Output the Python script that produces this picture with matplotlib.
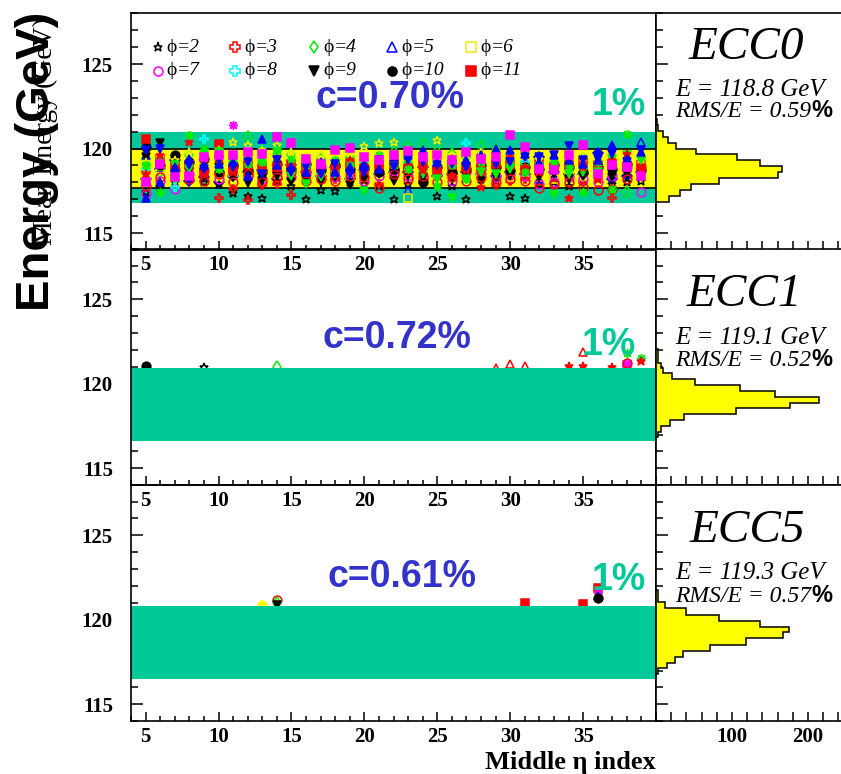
import numpy as np
import matplotlib
matplotlib.use("Agg")
import matplotlib.pyplot as plt
from matplotlib.ticker import MultipleLocator

plt.rcParams['font.family'] = ['Liberation Serif', 'DejaVu Serif']
plt.rcParams['font.weight'] = 'bold'

# ---------------- data ----------------
eta = np.arange(5, 40)

# top panel (ECC0), one list per marker series, eta = 5..39
phi2 = [117.4, 117.7, 118.0, 118.3, 118.0, 117.9, 117.35, 117.2, 117.1, 118.1,
        117.8, 117.0, 117.55, 117.5, 118.0, 117.9, 117.8, 117.0, 117.9, 118.1,
        117.2, 117.8, 117.0, 118.2, 118.1, 117.2, 117.05, 117.9, 118.0, 117.8,
        118.1, 118.2, 117.9, 118.0, 118.1]
phi3 = [118.6, 119.0, 119.2, 118.9, 118.4, 117.1, 117.6, 116.95, 117.85, 117.9,
        117.25, 118.3, 118.6, 118.2, 119.0, 118.4, 117.9, 118.6, 118.7, 118.0,
        118.4, 118.5, 118.3, 118.2, 117.85, 118.1, 118.2, 118.5, 118.3, 118.8,
        118.0, 118.4, 117.1, 118.6, 118.5]
phi4 = [119.3, 118.6, 118.2, 119.6, 119.2, 119.5, 119.4, 120.7, 119.8, 119.7,
        119.6, 119.3, 119.4, 119.0, 119.5, 119.3, 119.1, 119.8, 120.1, 120.25,
        120.15, 119.7, 119.5, 120.15, 119.9, 119.4, 119.0, 119.3, 119.2, 119.0,
        119.4, 119.1, 118.9, 117.4, 119.0]
phi5 = [119.6, 118.9, 118.6, 119.3, 119.0, 118.7, 118.5, 118.9, 119.4, 118.8,
        118.7, 119.0, 118.8, 118.6, 118.9, 118.7, 119.2, 118.5, 117.55, 118.8,
        118.6, 118.9, 119.3, 119.8, 118.6, 119.0, 119.3, 118.2, 118.4, 118.6,
        118.8, 118.7, 118.5, 118.9, 120.4]
phi6 = [118.3, 118.5, 118.8, 118.7, 118.9, 118.4, 118.6, 118.3, 118.9, 118.5,
        118.7, 118.4, 118.6, 118.8, 118.3, 118.5, 118.7, 118.4, 117.1, 118.6,
        118.3, 118.7, 118.5, 118.4, 118.7, 118.3, 118.6, 118.5, 118.2, 118.7,
        118.4, 118.3, 118.6, 118.8, 118.5]
phi7 = [117.3, 118.1, 117.6, 118.5, 118.7, 118.2, 118.9, 118.4, 118.2, 118.6,
        118.3, 118.5, 118.9, 118.3, 118.6, 118.1, 118.4, 118.7, 118.4, 118.2,
        118.5, 118.1, 118.6, 118.8, 118.3, 118.5, 118.4, 117.9, 118.0, 118.3,
        118.2, 118.0, 118.4, 118.9, 117.4]
phi8 = [118.8, 119.3, 117.7, 119.1, 120.55, 119.0, 118.7, 119.1, 118.9, 119.2,
        119.0, 118.8, 119.1, 118.9, 118.7, 119.2, 119.0, 118.9, 119.1, 118.9,
        119.0, 118.8, 120.3, 118.9, 119.0, 118.9, 119.2, 119.0, 118.8, 119.1,
        118.9, 118.8, 119.0, 118.7, 118.9]
phi9 = [119.5, 120.3, 119.1, 118.6, 118.4, 118.9, 118.3, 117.95, 118.1, 118.4,
        118.0, 118.2, 118.0, 118.3, 117.85, 118.2, 118.5, 118.1, 118.4, 118.3,
        118.5, 118.2, 118.4, 118.1, 118.3, 118.4, 118.6, 118.3, 118.5, 118.2,
        118.4, 118.6, 118.3, 118.5, 118.4]
phi10 = [120.1, 119.0, 119.6, 119.2, 119.4, 118.6, 119.0, 118.7, 118.6, 119.1,
         118.8, 119.1, 118.7, 119.0, 118.8, 118.9, 118.6, 118.8, 118.9, 118.0,
         118.9, 118.6, 118.8, 119.0, 118.9, 118.7, 118.9, 118.8, 119.0, 118.9,
         118.6, 118.9, 118.8, 119.1, 118.7]
phi11 = [120.55, 119.4, 118.9, 119.0, 118.6, 120.27, 118.8, 119.0, 118.8, 118.9,
         119.1, 118.7, 119.0, 118.8, 119.1, 118.8, 119.0, 119.1, 118.8, 119.1,
         118.7, 119.0, 118.9, 118.8, 119.1, 119.0, 118.7, 119.1, 118.9, 119.0,
         119.2, 119.0, 119.1, 118.9, 119.0]
# other phi rows (not in the legend)
tri_up_blue = [117.1, 118.0, 118.9, 119.4, 119.0, 119.1, 119.2, 118.4, 120.55, 119.0,
               118.9, 118.6, 119.2, 118.6, 118.9, 119.1, 118.8, 119.5, 119.6, 119.9,
               119.2, 119.4, 119.3, 119.6, 120.0, 119.9, 119.7, 119.2, 119.6, 119.3,
               119.1, 119.3, 120.2, 119.4, 119.8]
tri_dn_blue = [119.9, 120.0, 118.5, 119.0, 118.8, 119.3, 118.9, 119.2, 118.5, 119.3,
               118.6, 118.9, 118.5, 119.1, 118.5, 118.6, 119.3, 118.9, 119.3, 119.2,
               119.0, 119.1, 118.9, 119.3, 119.1, 119.2, 119.5, 119.5, 119.6, 120.15,
               119.3, 119.4, 119.7, 119.2, 119.9]
star_red = [118.5, 119.6, 118.4, 120.4, 119.4, 119.2, 118.6, 119.3, 119.0, 119.5,
            119.2, 118.9, 118.6, 118.7, 119.3, 119.0, 118.9, 119.2, 119.0, 118.7,
            118.9, 118.4, 118.7, 117.7, 119.2, 119.5, 118.9, 118.6, 118.7, 117.1,
            118.9, 118.2, 119.3, 119.7, 118.8]
tri_dn_green = [118.9, 119.2, 119.0, 118.8, 119.6, 119.8, 119.0, 119.5, 119.1, 119.8,
                118.4, 117.9, 118.3, 118.5, 119.2, 117.5, 119.2, 119.3, 119.0, 118.5,
                118.2, 117.1, 118.2, 118.6, 118.5, 118.8, 118.8, 118.9, 117.25, 118.5,
                118.6, 118.6, 119.4, 119.6, 119.3]
sq_magenta = [118.0, 119.1, 118.3, 118.4, 119.5, 119.6, 119.6, 119.8, 119.7, 120.7,
              120.35, 119.4, 119.1, 119.9, 120.05, 119.5, 119.3, 119.6, 119.85, 119.5,
              119.6, 119.3, 119.8, 119.4, 119.5, 120.8, 120.07, 118.8, 118.7, 119.6,
              120.2, 118.5, 119.0, 118.9, 118.4]
circ_yellow = [118.7, 118.7, 118.1, 118.9, 118.6, 118.3, 119.2, 118.9, 118.4, 118.7,
               118.5, 118.3, 118.8, 118.5, 118.6, 118.4, 118.2, 118.3, 119.0, 118.6,
               118.8, 118.9, 119.0, 118.7, 118.8, 118.6, 118.8, 118.7, 118.9, 118.4,
               118.7, 118.8, 118.7, 119.0, 118.6]
ast_green = [119.0, 117.45, 118.6, 120.8, 120.0, 118.8, 119.5, 119.1, 119.2, 119.9,
             119.4, 119.0, 119.2, 119.3, 119.0, 119.4, 119.6, 119.0, 118.8, 119.4,
             117.8, 119.0, 118.2, 119.2, 119.3, 119.1, 118.6, 119.0, 119.2, 118.9,
             117.45, 119.2, 117.6, 120.86, 119.5]
circ_red = [117.8, 118.3, 118.7, 118.2, 118.1, 118.5, 118.0, 118.5, 118.0, 118.3,
            118.6, 118.1, 118.2, 118.1, 118.4, 118.3, 117.65, 118.5, 118.2, 118.4,
            118.0, 118.3, 118.1, 118.3, 118.0, 118.2, 118.1, 117.65, 117.9, 118.0,
            117.7, 117.55, 117.6, 118.2, 118.9]
star_yellow = [119.2, 119.5, 119.3, 119.8, 119.7, 119.9, 120.4, 120.2, 119.9, 120.2,
               119.8, 119.6, 119.7, 119.5, 119.8, 120.15, 120.3, 120.4, 119.9, 119.8,
               120.5, 119.6, 119.7, 119.8, 119.6, 119.7, 119.6, 119.4, 119.5, 119.7,
               119.5, 119.3, 119.6, 119.5, 119.4]
diam_blue = [118.2, 118.8, 119.3, 118.1, 118.3, 118.0, 118.4, 118.6, 118.7, 118.2,
             119.0, 118.6, 118.4, 118.9, 118.2, 118.7, 118.5, 118.6, 118.6, 118.9,
             118.4, 118.5, 118.6, 118.5, 118.4, 118.6, 118.5, 119.5, 118.6, 118.5,
             118.5, 119.75, 118.2, 118.4, 118.6]
ast_magenta_eta = [11]
ast_magenta = [121.4]

# ECC1 / ECC5: only the few points sticking out above the 1% band
mid_eta = [5, 9, 14, 29, 30, 31, 34, 35, 35, 37, 38, 38, 38, 39, 39]
mid_e = [121.05, 121.0, 121.0, 120.95, 121.2, 121.05, 121.05, 121.9, 121.05, 121.0,
         121.1, 121.25, 121.8, 121.55, 121.35]
mid_kind = ['phi10', 'phi2', 'phi4', 'tri_red', 'tri_red', 'tri_red', 'star_red', 'tri_red',
            'star_red', 'star_red', 'sq_magenta', 'circ_red', 'ast_green', 'ast_green', 'star_red']
bot_eta = [13, 14, 14, 14, 31, 35, 36, 36, 36, 36]
bot_e = [120.85, 121.2, 121.0, 120.9, 121.0, 120.95, 121.9, 121.6, 121.4, 121.3]
bot_kind = ['circ_yellow', 'circ_red', 'phi4', 'phi9', 'phi11', 'phi11', 'phi11',
            'ast_magenta', 'tri_up_blue', 'phi10']

# bands (1% band, and the c band for ECC0)
band_lo = [116.76, 116.62, 116.52]
band_hi = [121.0, 120.95, 120.83]
cband_lo, cband_hi = 117.65, 119.95

# energy histograms
h_edges = [
    [116.85, 117.2, 117.55, 117.9, 118.25, 118.6, 118.95, 119.3, 119.65, 120.0,
     120.35, 120.7, 121.05, 121.4, 121.75],
    [116.87, 117.17, 117.50, 117.86, 118.20, 118.55, 118.88, 119.24, 119.57, 119.93,
     120.27, 120.62, 120.92, 121.25, 121.65, 122.04],
    [116.80, 117.14, 117.47, 117.82, 118.18, 118.52, 118.91, 119.25, 119.60, 119.90,
     120.30, 120.69, 121.03, 121.38, 121.74],
]
h_counts = [
    [17, 31, 46, 83, 161, 166, 137, 107, 53, 26, 16, 9, 2, 1],
    [3, 7, 18, 37, 105, 176, 214, 157, 110, 51, 21, 9, 7, 2, 2],
    [2, 14, 25, 35, 71, 119, 167, 175, 137, 83, 40, 12, 3, 2],
]

names = ['ECC0', 'ECC1', 'ECC5']
c_text = ['c=0.70%', 'c=0.72%', 'c=0.61%']
e_mean = ['118.8', '119.1', '119.3']
rms = ['0.59', '0.52', '0.57']

# ---------------- styles ----------------
ast8 = (8, 2, 0)
styles = {
    'phi2': ('*', 'black', False), 'phi3': ('P', 'red', False),
    'phi4': ('d', '#00ee00', False), 'phi5': ('^', 'blue', False),
    'phi6': ('s', '#eeee00', False), 'phi7': ('o', 'magenta', False),
    'phi8': ('P', 'cyan', False), 'phi9': ('v', 'black', True),
    'phi10': ('o', 'black', True), 'phi11': ('s', 'red', True),
    'tri_up_blue': ('^', 'blue', True), 'tri_dn_blue': ('v', 'blue', True),
    'star_red': ('*', 'red', True), 'tri_dn_green': ('v', '#00ee00', True),
    'sq_magenta': ('s', 'magenta', True), 'circ_yellow': ('o', 'yellow', True),
    'ast_green': (ast8, '#00ee00', True), 'circ_red': ('o', 'red', False),
    'star_yellow': ('*', '#eeee00', False), 'diam_blue': ('D', 'blue', True),
    'ast_magenta': (ast8, 'magenta', True), 'tri_red': ('^', 'red', False),
}
top_series = [
    (diam_blue, 'diam_blue'), (circ_yellow, 'circ_yellow'),
    (phi2, 'phi2'), (phi3, 'phi3'), (phi4, 'phi4'), (phi5, 'phi5'), (phi6, 'phi6'),
    (phi7, 'phi7'), (phi8, 'phi8'), (phi9, 'phi9'), (phi10, 'phi10'), (phi11, 'phi11'),
    (circ_red, 'circ_red'), (star_yellow, 'star_yellow'), (tri_dn_green, 'tri_dn_green'),
    (star_red, 'star_red'), (ast_green, 'ast_green'), (tri_dn_blue, 'tri_dn_blue'),
    (tri_up_blue, 'tri_up_blue'), (sq_magenta, 'sq_magenta'),
]

TEAL = '#00c999'
BLUE = '#3333cc'


def draw(ax, x, y, key, ms=6.3, z=2):
    m, c, filled = styles[key]
    if key == 'diam_blue':
        ms = ms * 0.8
    ax.plot(x, y, ls='none', marker=m, ms=ms, mec=c,
            mfc=c if filled else 'none', mew=1.1, zorder=z)


fig = plt.figure(figsize=(8.41, 7.74), dpi=100)
bottoms = [0.6771, 0.3731, 0.0682]
H = 0.3057

for i in range(3):
    ax = fig.add_axes([0.15577, bottoms[i], 0.62426, H])
    hx = fig.add_axes([0.78002, bottoms[i], 0.21998, H])

    # main panel
    if i == 0:
        ax.axhspan(band_lo[0], band_hi[0], color=TEAL, lw=0, zorder=0.5)
        ax.axhspan(cband_lo, cband_hi, color='yellow', lw=0, zorder=0.6)
        ax.axhline(cband_lo, color='black', lw=1.2, zorder=0.7)
        ax.axhline(cband_hi, color='black', lw=1.2, zorder=0.7)
        for vals, key in top_series:
            draw(ax, eta, vals, key)
        draw(ax, ast_magenta_eta, ast_magenta, 'ast_magenta')
    else:
        pe, pv, pk = (mid_eta, mid_e, mid_kind) if i == 1 else (bot_eta, bot_e, bot_kind)
        for x, y, k in zip(pe, pv, pk):
            draw(ax, [x], [y], k)
        ax.axhspan(band_lo[i], band_hi[i], color=TEAL, lw=0, zorder=2.3)

    ax.set_xlim(4, 40)
    ax.set_ylim(114, 128)
    ax.set_xticks([5, 10, 15, 20, 25, 30, 35])
    ax.xaxis.set_minor_locator(MultipleLocator(1))
    ax.set_yticks([115, 120, 125])
    ax.yaxis.set_minor_locator(MultipleLocator(1))
    ax.tick_params(axis='y', which='major', direction='in', length=8.5, width=1.1,
                   labelsize=15, pad=13)
    ax.tick_params(axis='y', which='minor', direction='in', length=4.8, width=1.1)
    ax.tick_params(axis='x', which='major', direction='in', length=6.5, width=1.1,
                   labelsize=15, pad=4)
    ax.tick_params(axis='x', which='minor', direction='in', length=3.6, width=1.1)
    for s in ax.spines.values():
        s.set_linewidth(1.2)
        s.set_zorder(3)
    ax.patch.set_alpha(0)

    ax.text([16.64, 17.1, 17.47][i], [122.4, 122.12, 121.96][i], c_text[i],
            ha='left', va='baseline', family='Liberation Sans', weight='bold',
            size=27, color=BLUE, zorder=5)
    ax.text([35.6, 34.93, 35.6][i], [121.98, 121.7, 121.78][i], '1%',
            ha='left', va='baseline', family='Liberation Sans', weight='bold',
            size=27, color=TEAL, zorder=5)

    # histogram panel
    hx.stairs(h_counts[i], h_edges[i], orientation='horizontal', baseline=0,
              fill=True, facecolor='yellow', edgecolor='black', lw=1.1, zorder=2)
    hx.set_xlim(0, 243.4)
    hx.set_ylim(114, 128)
    hx.set_xticks([100, 200])
    hx.xaxis.set_minor_locator(MultipleLocator(20))
    hx.set_yticks([115, 120, 125])
    hx.yaxis.set_minor_locator(MultipleLocator(1))
    hx.tick_params(axis='y', which='major', direction='in', length=8.5, width=1.1,
                   labelleft=False)
    hx.tick_params(axis='y', which='minor', direction='in', length=4.8, width=1.1)
    hx.tick_params(axis='x', which='major', direction='in', length=6.5, width=1.1,
                   labelsize=15, pad=4)
    hx.tick_params(axis='x', which='minor', direction='in', length=6.5, width=1.1)
    hx.spines['right'].set_visible(False)
    for s in hx.spines.values():
        s.set_linewidth(1.2)
        s.set_zorder(3)

    hx.text([0.486, 0.48, 0.495][i], [0.855, 0.804, 0.806][i], names[i],
            transform=hx.transAxes, ha='center', va='center', style='italic',
            weight='normal', size=34)
    hx.text(0.103, [0.676, 0.622, 0.628][i], 'E = %s GeV' % e_mean[i],
            transform=hx.transAxes, ha='left', va='center', style='italic',
            weight='normal', size=18)
    t = hx.text(0.103, [0.585, 0.525, 0.527][i], 'RMS/E = %s' % rms[i],
                transform=hx.transAxes, ha='left', va='center', style='italic',
                weight='normal', size=17)
    hx.annotate('%', xy=(1, 0), xycoords=t, ha='left', va='bottom',
                family='Liberation Sans', weight='bold', size=17)

    if i == 0:
        # legend of the phi rows
        leg_x = [5.82, 11.16, 16.58, 21.9, 27.33]
        leg_y = [126.0, 124.6]
        for k in range(10):
            key = 'phi%d' % (k + 2)
            x, y = leg_x[k % 5], leg_y[k // 5]
            draw(ax, [x], [y], key, ms=6.5, z=4)
            p = ax.annotate('\u03d5', xy=(x, y), xytext=(6.5, 0),
                            textcoords='offset points', ha='left', va='center',
                            weight='normal', size=14)
            ax.annotate('=%d' % (k + 2), xy=(1, 0), xycoords=p, ha='left',
                        va='bottom', style='italic', weight='normal', size=14)

fig.text(45 / 841, 1 - 131 / 774, 'Mean Energy (GeV)', rotation=90, ha='center',
         va='center', weight='normal', size=20)
fig.text(37 / 841, 1 - 161 / 774, 'Energy (GeV)', rotation=90, ha='center',
         va='center', family='Liberation Sans', weight='bold', size=34)
fig.text(656 / 841, 1 - 762 / 774, 'Middle \u03b7 index', ha='right', va='center',
         weight='bold', size=19)

fig.savefig('out.png', dpi=100)
